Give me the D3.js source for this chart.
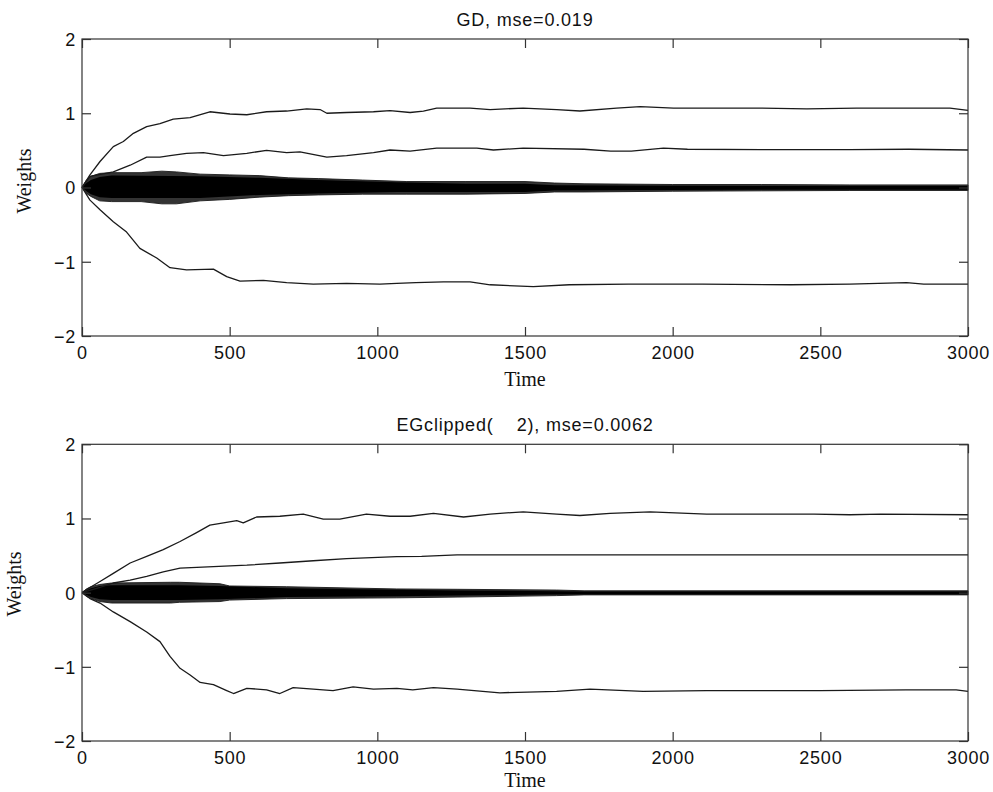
<!DOCTYPE html>
<html>
<head>
<meta charset="utf-8">
<script src="https://cdn.jsdelivr.net/npm/d3@7"></script>
<style>
  html, body { margin: 0; padding: 0; background: #fff; }
  svg { display: block; }
  .tick-label, .title { font-family: "Liberation Sans", Arial, Helvetica, sans-serif; font-size: 18px; letter-spacing: 0.8px; fill: #111; }
  .axis-label { font-family: "Liberation Serif", "Times New Roman", Times, serif; font-size: 20px; fill: #111; }
</style>
</head>
<body>
<svg id="mainSVG"></svg>
<script>
/* ---------- size ---------- */

var SVG_WIDTH = 993,
    SVG_HEIGHT = 792;

/* ---------- axes ---------- */

var xTicks = [0, 500, 1000, 1500, 2000, 2500, 3000],
    yTicks = [-2, -1, 0, 1, 2];

/* ---------- GD panel: [time, weight] ---------- */

var gdTitle = "GD, mse=0.019";

var gdUpper = [[0,0],[27,0.17],[61,0.35],[106,0.55],[140,0.62],[174,0.73],[219,0.82],[264,0.86],[309,0.92],[366,0.94],[433,1.02],[501,0.99],[558,0.98],[625,1.02],[693,1.03],[761,1.06],[806,1.05],[829,1.0],[896,1.01],[987,1.02],[1043,1.035],[1111,1.01],[1156,1.03],[1201,1.07],[1314,1.07],[1382,1.05],[1494,1.07],[1607,1.05],[1686,1.03],[1810,1.07],[1890,1.09],[2003,1.07],[2115,1.07],[2300,1.07],[2454,1.06],[2623,1.07],[2939,1.07],[3000,1.04]];

var gdMiddle = [[0,0],[27,0.15],[106,0.21],[163,0.30],[219,0.41],[264,0.41],[298,0.43],[354,0.46],[411,0.47],[479,0.43],[558,0.46],[625,0.50],[693,0.47],[738,0.48],[829,0.41],[896,0.43],[987,0.47],[1043,0.505],[1111,0.49],[1201,0.53],[1337,0.53],[1393,0.505],[1494,0.53],[1700,0.515],[1790,0.49],[1860,0.49],[1969,0.53],[2050,0.515],[2300,0.51],[2600,0.51],[2800,0.515],[3000,0.505]];

var gdLower = [[0,0],[27,-0.17],[61,-0.30],[106,-0.46],[151,-0.60],[196,-0.82],[253,-0.95],[298,-1.08],[354,-1.11],[445,-1.10],[490,-1.20],[535,-1.26],[614,-1.25],[693,-1.28],[783,-1.30],[896,-1.29],[1009,-1.30],[1066,-1.29],[1130,-1.28],[1224,-1.27],[1314,-1.27],[1382,-1.31],[1528,-1.335],[1650,-1.31],[1850,-1.30],[2100,-1.30],[2400,-1.31],[2600,-1.30],[2792,-1.28],[2850,-1.30],[3000,-1.30]];

// the bundle of small weights: [time, low, high]
var gdBandOuter = [[0,0,0],[15,-0.08,0.10],[30,-0.12,0.15],[60,-0.18,0.19],[100,-0.19,0.20],[200,-0.19,0.20],[270,-0.22,0.22],[320,-0.22,0.21],[400,-0.18,0.18],[500,-0.16,0.17],[600,-0.13,0.16],[700,-0.11,0.13],[800,-0.10,0.12],[950,-0.09,0.10],[1100,-0.09,0.08],[1300,-0.09,0.08],[1500,-0.08,0.08],[1600,-0.06,0.06],[1700,-0.06,0.05],[2000,-0.05,0.04],[2300,-0.045,0.04],[2600,-0.04,0.035],[3000,-0.04,0.035]];

var gdBandCore = [[0,0,0],[15,-0.05,0.06],[30,-0.09,0.10],[60,-0.13,0.14],[100,-0.14,0.16],[400,-0.14,0.15],[600,-0.10,0.13],[800,-0.08,0.10],[1066,-0.06,0.07],[1300,-0.06,0.05],[1500,-0.06,0.05],[1600,-0.04,0.03],[2000,-0.035,0.025],[2300,-0.03,0.02],[3000,-0.03,0.02]];

/* ---------- EGclipped panel ---------- */

var egTitle = "EGclipped(    2), mse=0.0062";

var egUpper = [[0,0],[27,0.07],[61,0.15],[106,0.26],[163,0.40],[219,0.49],[275,0.58],[332,0.69],[388,0.81],[433,0.91],[479,0.94],[524,0.97],[546,0.94],[591,1.02],[670,1.03],[749,1.06],[817,0.99],[873,0.99],[963,1.06],[1043,1.03],[1111,1.03],[1190,1.07],[1292,1.02],[1382,1.06],[1494,1.09],[1607,1.06],[1686,1.04],[1788,1.07],[1924,1.09],[2115,1.06],[2478,1.06],[2600,1.05],[2704,1.06],[3000,1.05]];

var egMiddle = [[0,0],[61,0.07],[106,0.13],[163,0.17],[219,0.22],[275,0.28],[332,0.33],[445,0.35],[558,0.37],[670,0.40],[783,0.43],[896,0.46],[1066,0.485],[1150,0.49],[1270,0.51],[1500,0.51],[3000,0.51]];

var egLower = [[0,0],[27,-0.08],[61,-0.14],[106,-0.26],[163,-0.39],[219,-0.53],[264,-0.66],[298,-0.86],[332,-1.02],[366,-1.11],[400,-1.21],[445,-1.24],[490,-1.32],[513,-1.36],[558,-1.29],[625,-1.31],[670,-1.36],[715,-1.28],[783,-1.30],[850,-1.32],[918,-1.27],[987,-1.30],[1066,-1.29],[1120,-1.31],[1190,-1.28],[1270,-1.30],[1415,-1.35],[1607,-1.33],[1720,-1.30],[1900,-1.33],[2115,-1.32],[2500,-1.32],[2790,-1.31],[2960,-1.31],[3000,-1.33]];

var egBandOuter = [[0,0,0],[15,-0.05,0.05],[30,-0.08,0.08],[60,-0.12,0.11],[100,-0.14,0.13],[300,-0.14,0.14],[330,-0.13,0.14],[467,-0.12,0.12],[500,-0.10,0.09],[692,-0.08,0.08],[1066,-0.07,0.05],[1270,-0.06,0.045],[1607,-0.04,0.035],[1700,-0.03,0.025],[3000,-0.03,0.025]];

var egBandCore = [[0,0,0],[15,-0.03,0.03],[30,-0.06,0.06],[60,-0.09,0.09],[100,-0.10,0.10],[330,-0.10,0.10],[467,-0.09,0.09],[692,-0.06,0.06],[1066,-0.05,0.04],[1270,-0.04,0.03],[1607,-0.025,0.02],[1700,-0.02,0.015],[3000,-0.02,0.015]];

/* ---------- panels ---------- */

var panels = [
    {title: gdTitle, lines: [gdUpper, gdMiddle, gdLower], outer: gdBandOuter, core: gdBandCore,
     top: 39, bottom: 336, ylabelX: 31, ylabelY: 181, xlabelDy: 50},
    {title: egTitle, lines: [egUpper, egMiddle, egLower], outer: egBandOuter, core: egBandCore,
     top: 444.3, bottom: 741, ylabelX: 21, ylabelY: 584, xlabelDy: 46}
];

var left = 82, right = 968, tickLen = 9;
var lineColor = "#1a1a1a";

var svg = d3.select("#mainSVG")
    .attr("width", SVG_WIDTH)
    .attr("height", SVG_HEIGHT);

var x = d3.scaleLinear().domain([0, 3000]).range([left, right]);

panels.forEach(function(p) {

    var y = d3.scaleLinear().domain([-2, 2]).range([p.bottom, p.top]);
    var g = svg.append("g");

    // band of small weights
    var area = d3.area()
        .x(function(d) { return x(d[0]); })
        .y0(function(d) { return y(d[1]); })
        .y1(function(d) { return y(d[2]); });

    g.append("path")
        .datum(p.outer)
        .attr("d", area)
        .attr("fill", "#000")
        .attr("fill-opacity", 0.8)
        .attr("stroke", lineColor)
        .attr("stroke-width", 0.9);

    g.append("path")
        .datum(p.core)
        .attr("d", area)
        .attr("fill", "#000");

    // the three large weights
    var line = d3.line()
        .x(function(d) { return x(d[0]); })
        .y(function(d) { return y(d[1]); });

    g.selectAll(".weight")
        .data(p.lines)
        .enter().append("path")
        .attr("class", "weight")
        .attr("d", line)
        .attr("fill", "none")
        .attr("stroke", lineColor)
        .attr("stroke-width", 1.3)
        .attr("stroke-linejoin", "round");

    // box
    g.append("rect")
        .attr("x", left)
        .attr("y", p.top)
        .attr("width", right - left)
        .attr("height", p.bottom - p.top)
        .attr("fill", "none")
        .attr("stroke", "#333")
        .attr("stroke-width", 1.2);

    // inward ticks, on all four sides
    var axB = d3.axisBottom(x).tickValues(xTicks).tickSizeInner(-tickLen).tickSizeOuter(0).tickPadding(10)
        .tickFormat(d3.format("d"));
    var axT = d3.axisTop(x).tickValues(xTicks).tickSizeInner(-tickLen).tickSizeOuter(0).tickFormat("");
    var axL = d3.axisLeft(y).tickValues(yTicks).tickSizeInner(-tickLen).tickSizeOuter(0).tickPadding(6)
        .tickFormat(function(d) { return d < 0 ? "\u2212" + Math.abs(d) : String(d); });
    var axR = d3.axisRight(y).tickValues(yTicks).tickSizeInner(-tickLen).tickSizeOuter(0).tickFormat("");

    [[axB, "translate(0," + p.bottom + ")"], [axT, "translate(0," + p.top + ")"],
     [axL, "translate(" + left + ",0)"], [axR, "translate(" + right + ",0)"]].forEach(function(a) {
        var ag = g.append("g").attr("transform", a[1]).call(a[0]);
        ag.select(".domain").remove();
        ag.selectAll("line").attr("stroke", "#333").attr("stroke-width", 1.2);
        ag.selectAll("text")
            .attr("class", "tick-label")
            .attr("font-family", null)
            .attr("font-size", null)
            .attr("fill", null);
    });

    // x tick labels: baseline ~23px under the box
    g.selectAll(".tick-label").filter(function() { return this.getAttribute("dy") === "0.71em"; })
        .attr("y", 23).attr("dy", null);
    g.selectAll(".tick-label").filter(function() { return this.getAttribute("dy") === "0.32em"; })
        .attr("dy", "0.36em");

    // title
    g.append("text")
        .attr("class", "title")
        .attr("x", (left + right) / 2)
        .attr("y", p.top - 13)
        .attr("text-anchor", "middle")
        .style("white-space", "pre")
        .text(p.title);

    // axis labels
    g.append("text")
        .attr("class", "axis-label")
        .attr("x", (left + right) / 2)
        .attr("y", p.bottom + p.xlabelDy)
        .attr("text-anchor", "middle")
        .text("Time");

    g.append("text")
        .attr("class", "axis-label")
        .attr("transform", "translate(" + p.ylabelX + "," + p.ylabelY + ") rotate(-90)")
        .attr("text-anchor", "middle")
        .text("Weights");
});
</script>
</body>
</html>
